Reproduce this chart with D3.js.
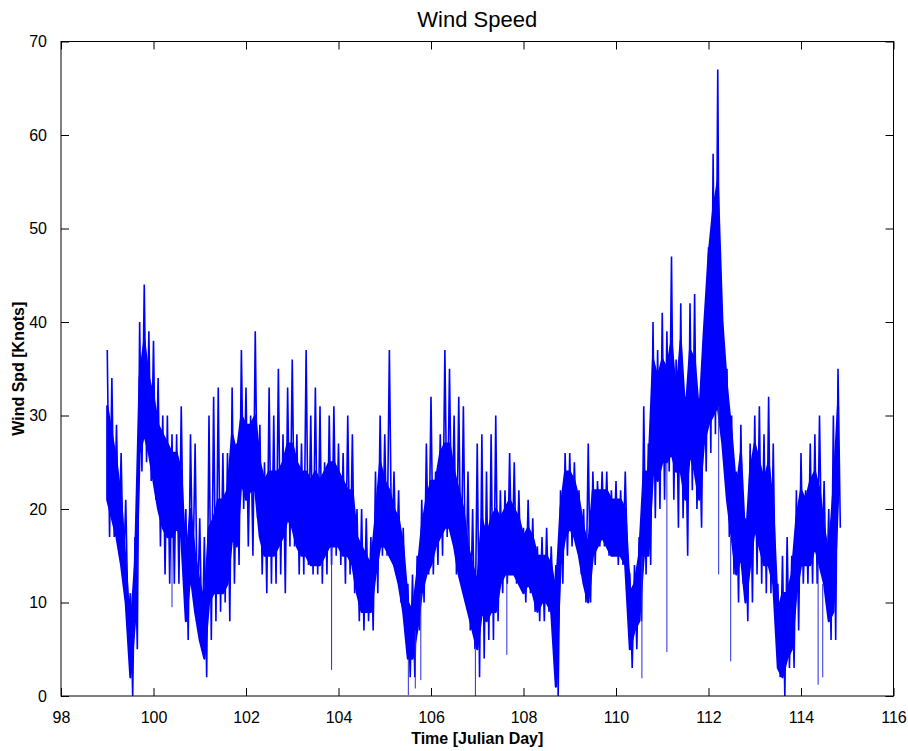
<!DOCTYPE html>
<html>
<head>
<meta charset="utf-8">
<script src="https://cdn.jsdelivr.net/npm/d3@7"></script>
<style>
  html, body { margin: 0; padding: 0; background: #fff; }
  svg { display: block; font-family: "Liberation Sans", Arial, Helvetica, sans-serif; }
</style>
</head>
<body>
<svg id="chart" width="908" height="751"></svg>
<script>
// Wind speed record, summarised every 0.1 Julian day from day 99.0.
// speedHigh / speedLow: extreme gusts and lulls within each sample;
// coreHigh / coreLow: the range the trace spends most of its time in.
const firstDay = 99.0;
const dayStep = 0.1;
const speedHigh = [
  37, 34, 29, 26, 21, 11, 17, 40, 44, 39,   // 99.0 - 99.9
  38, 34, 30, 30, 28, 28, 31, 20, 28, 27,   // 100.0 - 100.9
  19, 17, 30, 32, 33, 26, 26, 33, 27, 37,   // 101.0 - 101.9
  33, 30, 39, 29, 25, 33, 30, 35, 28, 33,   // 102.0 - 102.9
  36, 28, 27, 37, 30, 33, 31, 25, 30, 31,   // 103.0 - 103.9
  27, 26, 30, 28, 20, 20, 19, 17, 24, 30,   // 104.0 - 104.9
  28, 37, 24, 22, 18, 12, 13, 15, 21, 27,   // 105.0 - 105.9
  32, 24, 28, 37, 35, 30, 32, 31, 24, 20,   // 106.0 - 106.9
  27, 28, 24, 28, 30, 22, 22, 26, 25, 22,   // 107.0 - 107.9
  18, 21, 19, 16, 17, 18, 16, 14, 22, 26,   // 108.0 - 108.9
  26, 25, 22, 20, 27, 24, 23, 24, 24, 22,   // 109.0 - 109.9
  23, 22, 24, 13, 14, 17, 31, 27, 40, 37,   // 110.0 - 110.9
  41, 39, 47, 36, 42, 32, 42, 43, 30, 39,   // 111.0 - 111.9
  48, 58, 67, 40, 35, 30, 24, 29, 19, 27,   // 112.0 - 112.9
  30, 31, 28, 32, 27, 12, 15, 17, 15, 22,   // 113.0 - 113.9
  26, 22, 27, 28, 30, 23, 20, 30, 35        // 114.0 - 114.8
];
const coreHigh = [
  31, 28, 25, 21, 14, 7, 14, 34, 38, 34,
  32, 29, 28, 27, 26, 26, 24, 14, 20, 15,
  12, 10, 18, 19, 21, 21, 22, 28, 26, 30,
  29, 29, 30, 25, 23, 24, 24, 24, 25, 27,
  27, 25, 24, 24, 23, 24, 23, 24, 25, 25,
  24, 23, 22, 22, 17, 16, 15, 14, 19, 25,
  23, 22, 20, 19, 16, 10, 9, 13, 18, 21,
  23, 23, 26, 27, 27, 24, 22, 20, 16, 14,
  12, 19, 17, 19, 20, 19, 20, 21, 20, 19,
  17, 18, 17, 15, 15, 15, 14, 11, 20, 24,
  24, 23, 21, 18, 16, 22, 22, 22, 22, 21,
  21, 21, 20, 11, 12, 15, 24, 24, 36, 34,
  36, 35, 38, 32, 38, 30, 37, 36, 30, 39,
  47, 52, 55, 40, 33, 28, 22, 26, 16, 24,
  27, 25, 23, 25, 20, 9, 11, 11, 13, 19,
  22, 21, 23, 24, 22, 18, 15, 22, 31
];
const coreLow = [
  21, 19, 17, 14, 10, 2, 8, 26, 28, 26,
  23, 20, 18, 17, 17, 18, 17, 8, 13, 9,
  6, 4, 10, 11, 11, 11, 12, 17, 16, 23,
  21, 22, 22, 17, 15, 15, 15, 16, 17, 19,
  18, 16, 15, 15, 14, 14, 14, 15, 16, 16,
  16, 15, 15, 14, 11, 9, 9, 9, 13, 16,
  16, 15, 14, 12, 9, 4, 4, 7, 11, 13,
  14, 16, 17, 18, 18, 16, 13, 11, 9, 7,
  5, 9, 8, 9, 9, 12, 13, 13, 13, 12,
  11, 12, 11, 9, 10, 10, 9, 1, 14, 17,
  18, 17, 15, 12, 10, 15, 16, 17, 16, 15,
  15, 15, 14, 5, 7, 8, 15, 15, 24, 23,
  25, 25, 26, 24, 24, 21, 26, 24, 21, 27,
  29, 30, 31, 27, 21, 17, 13, 15, 10, 14,
  18, 16, 14, 14, 12, 3, 2, 4, 5, 11,
  14, 14, 14, 16, 14, 12, 8, 9, 21
];
const speedLow = [
  17, 17, 16, 13, 8, 0, 5, 24, 25, 23,
  21, 16, 13, 12, 12, 12, 14, 6, 12, 8,
  5, 2, 6, 8, 9, 10, 8, 12, 14, 20,
  16, 15, 19, 13, 11, 12, 12, 13, 11, 16,
  16, 13, 13, 14, 13, 13, 12, 13, 14, 15,
  14, 12, 13, 11, 8, 7, 8, 7, 11, 15,
  15, 15, 13, 10, 7, 2, 2, 7, 10, 13,
  13, 14, 15, 17, 17, 13, 12, 10, 7, 5,
  2, 4, 6, 6, 8, 11, 12, 13, 12, 12,
  10, 11, 9, 8, 8, 9, 8, 0, 12, 15,
  16, 16, 13, 10, 10, 14, 16, 16, 15, 15,
  14, 14, 14, 3, 5, 8, 13, 14, 19, 20,
  21, 24, 21, 18, 19, 15, 22, 20, 18, 24,
  26, 28, 29, 25, 17, 13, 10, 12, 8, 10,
  13, 12, 11, 11, 9, 2, 0, 3, 3, 7,
  12, 12, 12, 12, 14, 10, 6, 6, 18
];
// Isolated single-sample drops that stand out from the trace.
const spikeDays   = [100.40, 103.85, 105.51, 105.66, 105.78, 106.96, 107.64, 110.56, 111.10, 112.22, 112.48, 114.37, 114.47];
const spikeSpeeds = [9.5,    2.8,    0.1,    0.8,    1.7,    0.0,    4.4,    1.9,    4.7,    13.0,   3.7,    1.2,    2.0];

const xTicks = [98, 100, 102, 104, 106, 108, 110, 112, 114, 116];
const yTicks = [0, 10, 20, 30, 40, 50, 60, 70];

const days = speedHigh.map((_, i) => firstDay + i * dayStep);
const samples = days.map((d, i) => ({
  day: d, hi: speedHigh[i], lo: speedLow[i], cHi: coreHigh[i], cLo: coreLow[i]
}));

const margin = { left: 61, right: 14.5, top: 41.5, bottom: 55 };
const W = 908, H = 751;
const svg = d3.select("#chart");

const x = d3.scaleLinear().domain([98, 116]).range([margin.left, W - margin.right]);
const y = d3.scaleLinear().domain([0, 70]).range([H - margin.bottom, margin.top]);

svg.append("defs").append("clipPath").attr("id", "box")
  .append("rect")
  .attr("x", x(98)).attr("y", y(70))
  .attr("width", x(116) - x(98)).attr("height", y(0) - y(70) + 0.5);

const traceG = svg.append("g").attr("clip-path", "url(#box)");
const blue = "#0000ff";

// dense body of the trace
traceG.append("path")
  .datum(samples)
  .attr("d", d3.area().x(d => x(d.day)).y0(d => y(d.cLo)).y1(d => y(d.cHi)))
  .attr("fill", blue)
  .attr("stroke", blue)
  .attr("stroke-width", 2.2)
  .attr("stroke-linejoin", "round");

// gusts and lulls: the line swings up to the high and down to the low of each sample
const swing = [];
samples.forEach(s => {
  swing.push([s.day, s.hi]);
  swing.push([s.day + dayStep / 2, s.lo]);
});
traceG.append("path")
  .datum(swing)
  .attr("d", d3.line().x(d => x(d[0])).y(d => y(d[1])))
  .attr("fill", "none")
  .attr("stroke", blue)
  .attr("stroke-width", 1.6)
  .attr("stroke-linejoin", "bevel");

// single drops
const nearest = t => samples[Math.max(0, Math.min(samples.length - 1, Math.round((t - firstDay) / dayStep)))];
traceG.selectAll("line.spike")
  .data(spikeDays.map((d, i) => ({ day: d, v: spikeSpeeds[i] })))
  .join("line")
  .attr("class", "spike")
  .attr("x1", d => x(d.day)).attr("x2", d => x(d.day))
  .attr("y1", d => y(nearest(d.day).cLo))
  .attr("y2", d => y(d.v))
  .attr("stroke", "#2a2ae0")
  .attr("stroke-width", 1);

// axes box
const axG = svg.append("g");
axG.append("rect")
  .attr("x", x(98)).attr("y", y(70))
  .attr("width", x(116) - x(98)).attr("height", y(0) - y(70))
  .attr("fill", "none").attr("stroke", "#000").attr("stroke-width", 1);

const tickLen = 8;
const fontTick = 16;
const tickFont = "Liberation Sans, Arial, sans-serif";

axG.append("g")
  .attr("transform", `translate(0,${y(0)})`)
  .call(d3.axisBottom(x).tickValues(xTicks).tickSize(-tickLen).tickPadding(tickLen + 8).tickFormat(d3.format("d")))
  .call(g => g.select(".domain").remove())
  .call(g => g.selectAll("text").attr("font-size", fontTick).attr("fill", "#000").attr("font-family", tickFont));
axG.append("g")
  .attr("transform", `translate(0,${y(70)})`)
  .call(d3.axisTop(x).tickValues(xTicks).tickSize(-tickLen).tickFormat(""))
  .call(g => g.select(".domain").remove());

axG.append("g")
  .attr("transform", `translate(${x(98)},0)`)
  .call(d3.axisLeft(y).tickValues(yTicks).tickSize(-tickLen).tickPadding(tickLen + 6).tickFormat(d3.format("d")))
  .call(g => g.select(".domain").remove())
  .call(g => g.selectAll("text").attr("font-size", fontTick).attr("fill", "#000").attr("font-family", tickFont));
axG.append("g")
  .attr("transform", `translate(${x(116)},0)`)
  .call(d3.axisRight(y).tickValues(yTicks).tickSize(-tickLen).tickFormat(""))
  .call(g => g.select(".domain").remove());

axG.selectAll(".tick line").attr("stroke", "#000").attr("stroke-width", 1);

svg.append("text")
  .attr("x", (x(98) + x(116)) / 2).attr("y", 27)
  .attr("text-anchor", "middle")
  .attr("font-size", 22)
  .text("Wind Speed");

svg.append("text")
  .attr("x", (x(98) + x(116)) / 2).attr("y", 744)
  .attr("text-anchor", "middle")
  .attr("font-size", 16).attr("font-weight", "bold")
  .text("Time [Julian Day]");

svg.append("text")
  .attr("transform", `translate(24,${(y(0) + y(70)) / 2}) rotate(-90)`)
  .attr("text-anchor", "middle")
  .attr("font-size", 16).attr("font-weight", "bold")
  .text("Wind Spd [Knots]");
</script>
</body>
</html>
